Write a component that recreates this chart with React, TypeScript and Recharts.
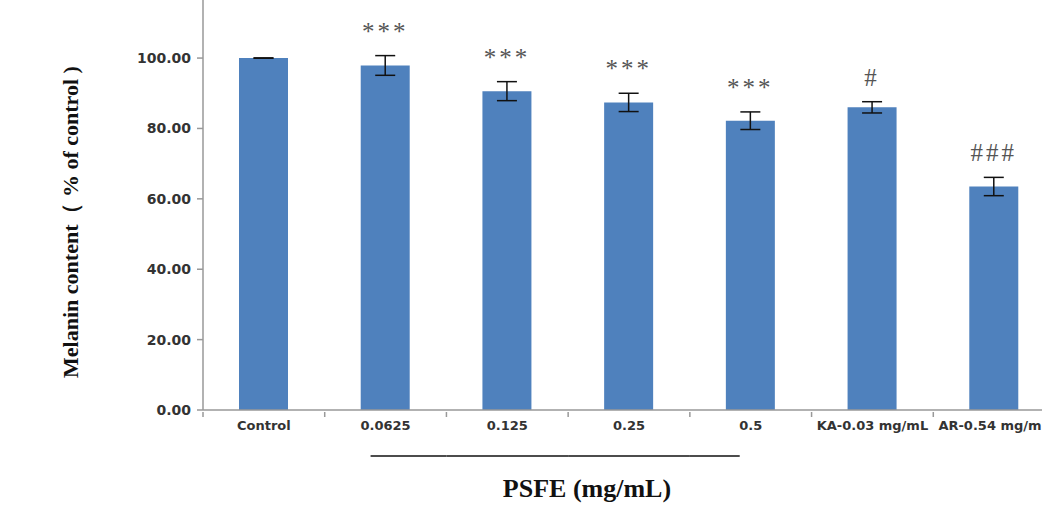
import React from 'react';
import { Bar, BarChart, ErrorBar, LabelList, XAxis, YAxis } from 'recharts';

const CATEGORIES = ['Control', '0.0625', '0.125', '0.25', '0.5', 'KA-0.03 mg/mL', 'AR-0.54 mg/mL'];
const MELANIN = [100, 97.9, 90.6, 87.4, 82.2, 86.0, 63.5];
const SEM = [0.05, 2.8, 2.7, 2.6, 2.5, 1.6, 2.6];
const MARKS = ['', '***', '***', '***', '***', '#', '###'];
const Y_TICKS = [0, 20, 40, 60, 80, 100];
const PSFE_GROUP = ['0.0625', '0.125', '0.25', '0.5'];

const data = CATEGORIES.map((name, i) => ({
  name,
  value: MELANIN[i],
  err: SEM[i],
  mark: MARKS[i],
}));

const serif = '"Liberation Serif", "Times New Roman", serif';
const sans = '"DejaVu Sans", Verdana, sans-serif';

function CategoryTick(props: any) {
  const { x, y, payload } = props;
  const half = payload.offset || 60.8;
  const name = payload.value;
  const idx = PSFE_GROUP.indexOf(name);
  let bracket = null;
  if (idx >= 0) {
    const x1 = idx === 0 ? x - 15 : x - half;
    const x2 = idx === PSFE_GROUP.length - 1 ? x - 11 : x + half;
    bracket = <line x1={x1} x2={x2} y1={y + 44} y2={y + 44} stroke="#111" strokeWidth={1.3} />;
  }
  return (
    <g>
      <line x1={x - half} x2={x - half} y1={y} y2={y + 5} stroke="#999" strokeWidth={1.5} />
      <text
        x={x}
        y={y + 18}
        textAnchor="middle"
        fontFamily={sans}
        fontWeight="bold"
        fontSize={13}
        fill="#333"
      >
        {name}
      </text>
      {bracket}
    </g>
  );
}

function MarkLabel(props: any) {
  const { x, y, width, height, index } = props;
  const d = data[index];
  if (!d || !d.mark) return null;
  const perUnit = height / d.value;
  const top = y - d.err * perUnit;
  return (
    <text
      x={x + width / 2}
      y={top - 16}
      textAnchor="middle"
      fontFamily={serif}
      fontSize={25}
      letterSpacing={3}
      fill="#555"
    >
      {d.mark}
    </text>
  );
}

function YLabel(props: any) {
  const { viewBox } = props;
  const cx = viewBox.x + 70;
  const cy = viewBox.y + viewBox.height / 2 + 17;
  return (
    <text
      x={cx}
      y={cy}
      transform={`rotate(-90, ${cx}, ${cy})`}
      textAnchor="middle"
      dominantBaseline="central"
      fontFamily={serif}
      fontWeight="bold"
      fontSize={22}
      fill="#111"
    >
      Melanin content（ % of control )
    </text>
  );
}

export default function App() {
  return (
    <div
      style={{
        position: 'absolute',
        top: 0,
        left: 0,
        width: 1042,
        height: 511,
        overflow: 'hidden',
        background: '#fff',
      }}
    >
      <BarChart
        width={1060}
        height={511}
        data={data}
        margin={{ top: 0, right: 5, left: 0, bottom: 0 }}
      >
        <XAxis
          dataKey="name"
          height={101}
          interval={0}
          tickLine={false}
          tickSize={0}
          stroke="#999"
          strokeWidth={1.5}
          tick={<CategoryTick />}
          label={{
            value: 'PSFE (mg/mL)',
            position: 'insideBottom',
            offset: 14,
            dx: -42,
            style: { fontFamily: serif, fontWeight: 'bold', fontSize: 26, fill: '#111' },
          }}
        />
        <YAxis
          width={203}
          domain={[0, 116.5]}
          ticks={Y_TICKS}
          tickFormatter={(v: number) => v.toFixed(2)}
          stroke="#999"
          strokeWidth={1.5}
          tickSize={6}
          tickMargin={6}
          tick={{ fill: '#333', fontFamily: sans, fontWeight: 'bold', fontSize: 14 }}
          label={<YLabel />}
        />
        <Bar dataKey="value" fill="#4F81BD" barSize={49} isAnimationActive={false}>
          <ErrorBar dataKey="err" width={10} stroke="#111" strokeWidth={1.5} />
          <LabelList dataKey="mark" content={<MarkLabel />} />
        </Bar>
      </BarChart>
    </div>
  );
}
